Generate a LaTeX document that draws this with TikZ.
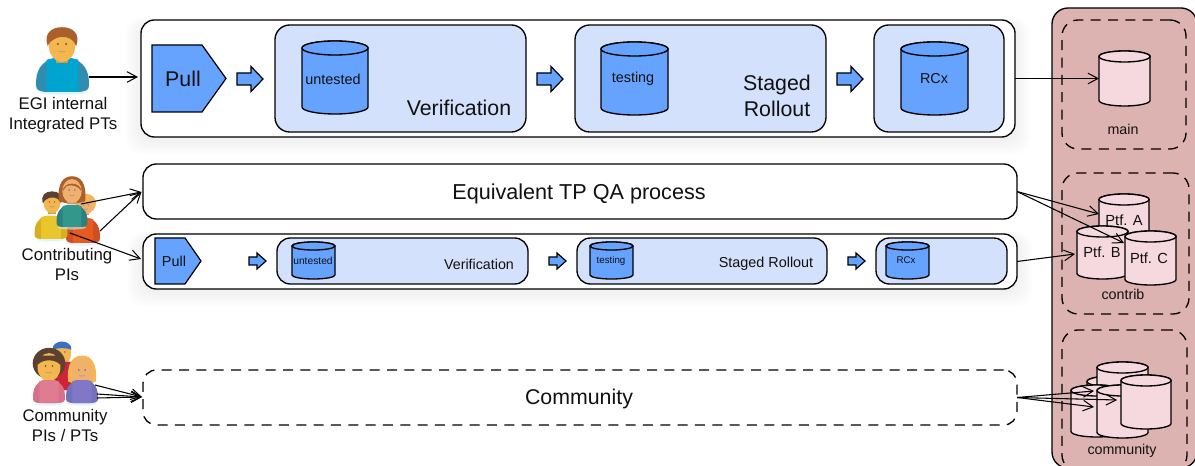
\documentclass[tikz,border=0pt]{standalone}
\usepackage{fontspec}
\setmainfont{Liberation Sans}
\usetikzlibrary{arrows.meta}
\definecolor{bluefill}{HTML}{66A3FF}
\definecolor{boxfill}{HTML}{D4E1FC}
\definecolor{pinkfill}{HTML}{F6D9DE}
\definecolor{panelfill}{HTML}{DDB3B1}
\definecolor{txt}{HTML}{111111}
\definecolor{skinA}{HTML}{F4B64F}
\definecolor{skinB}{HTML}{EFB070}
\definecolor{hairA}{HTML}{A8602C}
\definecolor{hairB}{HTML}{5C4030}
\definecolor{hairC}{HTML}{F2B654}
\definecolor{capblue}{HTML}{3A6FC4}
\definecolor{cyanA}{HTML}{00A4D0}
\definecolor{cyanB}{HTML}{2F8DB0}
\definecolor{yelA}{HTML}{E9C62C}
\definecolor{yelB}{HTML}{D8AE24}
\definecolor{tealA}{HTML}{34978C}
\definecolor{tealB}{HTML}{2B8080}
\definecolor{oraA}{HTML}{E65C1E}
\definecolor{oraB}{HTML}{D04E20}
\definecolor{redA}{HTML}{CE2438}
\definecolor{redB}{HTML}{A82230}
\definecolor{pnkA}{HTML}{DF7C92}
\definecolor{pnkB}{HTML}{D8708A}
\definecolor{vioA}{HTML}{8078C6}
\definecolor{vioB}{HTML}{7470BC}
\newcommand{\fs}[1]{\fontsize{#1}{#1}\selectfont}
\tikzset{
  lbl/.style={text=txt,inner sep=0pt,align=center},
  conn/.style={draw=black,line width=0.8pt,-{Straight Barb[length=7.5pt,width=8pt,line width=0.75pt]}},
  rbox/.style={draw=black,line width=1pt,rounded corners=#1,inner sep=0pt,outer sep=0pt},
  rbox/.default=10pt,
  dashbox/.style={rbox=#1,dash pattern=on 7.5pt off 5.5pt},
  dashbox/.default=10pt,
  blueshape/.style={draw=black,fill=bluefill,line width=0.9pt,line join=miter},
  anchorbox/.style={inner sep=0pt,outer sep=0pt},
}
% name, x1,y1,x2,y2, style, text
\newcommand{\bx}[7]{\node[#6,minimum width={(#4-#2)*0.75pt},minimum height={(#5-#3)*0.75pt}] (#1) at ({(#2+#4)/2},{(#3+#5)/2}) {#7};}
% name,x1,y1,x2,y2,shoulder
\newcommand{\pullsh}[6]{%
  \path[blueshape] (#2,#3) -- (#6,#3) -- (#4,{(#3+#5)/2}) -- (#6,#5) -- (#2,#5) -- cycle;
  \bx{#1}{#2}{#3}{#4}{#5}{anchorbox}{}
}
% name,x1,ym,x2,headstart,halfshaft,halfhead
\newcommand{\blockar}[7]{%
  \path[blueshape] (#2,#3-#6) -- (#5,#3-#6) -- (#5,#3-#7) -- (#4,#3) -- (#5,#3+#7) -- (#5,#3+#6) -- (#2,#3+#6) -- cycle;
  \bx{#1}{#2}{#3-#7}{#4}{#3+#7}{anchorbox}{}
}
% name, x1,y1,x2,y2, ry(px), fill
\newcommand{\cyl}[7]{%
  \pgfmathsetmacro{\crx}{(#4-#2)/2*0.75}\pgfmathsetmacro{\cry}{#6*0.75}%
  \pgfmathsetmacro{\cxm}{(#2+#4)/2}\pgfmathsetmacro{\cyt}{#3+#6}\pgfmathsetmacro{\cyb}{#5-#6}%
  \path[draw=black,line width=1pt,fill=#7] (#2,\cyt) -- (#2,\cyb) arc[start angle=180,end angle=360,x radius=\crx pt,y radius=\cry pt] -- (#4,\cyt) arc[start angle=0,end angle=180,x radius=\crx pt,y radius=\cry pt] -- cycle;
  \path[draw=black,line width=1pt,fill=#7] (\cxm,\cyt) ellipse[x radius=\crx pt,y radius=\cry pt];
  \node[anchorbox,minimum width={(#4-#2)*0.75pt},minimum height={(#5-#3)*0.75pt}] (#1) at (\cxm,{(#3+#5)/2}) {};
}
% soft shadow: x1,y1,x2,y2
\newcommand{\shadowbox}[4]{%
  \foreach \i in {1,...,7}{
    \path[fill=black,opacity=0.009,rounded corners=12pt] ({#1-\i*2.2},{#2-\i*0.8+3}) rectangle ({#3+\i*2.2},{#4+\i*2.2+2});
  }
}
% body: cx, base, half width, height, fill, dark side
\newcommand{\pbody}[6]{%
  \begin{scope}[shift={(#1,#2)},x={#3*0.75pt},y={#4*0.75pt}]
    \path[fill=cyan!20!white,opacity=.6] (0,-0.02) ellipse[x radius={#3*0.68pt},y radius={1.6pt}];
    \path[fill=#6] (-1,0.18) .. controls (-1.02,0.62) and (-0.82,0.9) .. (-0.3,1) -- (0.3,1) .. controls (0.82,0.9) and (1.02,0.62) .. (1,0.18) .. controls (1,0.03) and (0.8,0) .. (0.5,0) -- (-0.5,0) .. controls (-0.8,0) and (-1,0.03) .. (-1,0.18) -- cycle;
    \path[fill=#5] (-0.6,0) -- (-0.6,0.95) -- (-0.3,1) -- (0.3,1) -- (0.6,0.95) -- (0.6,0) -- cycle;
  \end{scope}
}
% head: cx, cy, r, skin, hair colour, style 0 short 1 long 2 cap 3 curly
\newcommand{\phead}[6]{%
  \begin{scope}[shift={(#1,#2)},x={#3*0.75pt},y={#3*0.75pt}]
    \ifnum#6=1 \path[fill=#5] (-1.2,-1.0) .. controls (-1.35,0.6) and (-0.8,1.25) .. (0,1.25) .. controls (0.8,1.25) and (1.35,0.6) .. (1.2,-1.0) .. controls (0.6,-1.3) and (-0.6,-1.3) .. (-1.2,-1.0) -- cycle; \fi
    \ifnum#6=3 \path[fill=#5] (0,0.2) ellipse[x radius={#3*0.94pt},y radius={#3*0.9pt}]; \fi
    \path[fill=#4!85!black] (-0.42,-0.6) rectangle (0.42,-1.3);
    \path[fill=#4] (0,-0.1) ellipse[x radius={#3*0.66pt},y radius={#3*0.82pt}];
    \ifnum#6=0 \path[fill=#5] (-0.95,-0.15) .. controls (-1.25,0.7) and (-0.7,1.12) .. (0,1.12) .. controls (0.7,1.12) and (1.25,0.7) .. (0.95,-0.15) .. controls (0.8,0.2) and (0.65,0.3) .. (0.55,0.35) .. controls (0.2,0.55) and (-0.3,0.5) .. (-0.55,0.3) .. controls (-0.7,0.25) and (-0.85,0.1) .. (-0.95,-0.15) -- cycle; \fi
    \ifnum#6=1 \path[fill=#5] (-0.85,-0.1) .. controls (-0.8,0.8) and (0.8,0.8) .. (0.85,-0.1) .. controls (0.6,0.35) and (0,0.55) .. (-0.5,0.35) -- cycle; \fi
    \ifnum#6=2 \path[fill=#5] (-0.9,0.22) .. controls (-0.95,1.25) and (0.95,1.25) .. (0.9,0.22) .. controls (0.4,0.42) and (-0.4,0.42) .. (-0.9,0.22) -- cycle; \fi
    \ifnum#6=3 \path[fill=#5] (-0.85,0.1) .. controls (-0.5,0.55) and (0.5,0.55) .. (0.85,0.1) -- (0.85,0.8) -- (-0.85,0.8) -- cycle; \fi
    \path[fill=black!70] (-0.27,0) circle[radius={#3*0.05pt}] (0.27,0) circle[radius={#3*0.05pt}];
    \path[draw=black!45,line width=0.3pt] (-0.22,-0.48) .. controls (-0.1,-0.56) and (0.1,-0.56) .. (0.22,-0.48);
  \end{scope}
}
\begin{document}
\begin{tikzpicture}[x=0.75pt,y=-0.75pt]
\useasboundingbox (0,0) rectangle (1195,466);
\fill[white] (0,0) rectangle (1195,466);
% right panel
\bx{panel}{1052}{8}{1197}{468}{rbox=12pt,fill=panelfill}{}
\bx{mainrepo}{1062}{20}{1186}{149}{dashbox=12pt}{}
\bx{contribrepo}{1062}{173}{1189}{314}{dashbox=12pt}{}
\bx{commrepo}{1062}{330}{1187}{471}{dashbox=12pt}{}
% top row
\shadowbox{141}{20}{1015}{137}
\bx{toprow}{141}{20}{1015}{137}{rbox=10pt,fill=white}{}
\pullsh{tpull}{152}{45}{226}{112}{202}
\node[lbl,font=\fs{16}] (tpulltxt) at (183,79) {Pull};
\blockar{ta1}{237}{79}{263}{251}{6}{12.5}
\bx{tver}{275}{25}{526}{132}{rbox=11pt,fill=boxfill}{}
\cyl{tunt}{302}{41}{368}{114}{7}{bluefill}
\node[lbl,font=\fs{10.8}] (tunttxt) at (333,79) {untested};
\node[lbl,font=\fs{16}] (tvertxt) at (459,108) {Verification};
\blockar{ta2}{537}{79}{563}{551}{6}{12.5}
\bx{tsta}{575}{25}{826}{132}{rbox=11pt,fill=boxfill}{}
\cyl{ttes}{601}{42}{668}{115}{7}{bluefill}
\node[lbl,font=\fs{10.8}] (ttestxt) at (633,79) {testing};
\node[lbl,font=\fs{16}] (tstatxt) at (777,95.5) {Staged\\[3.5pt]Rollout};
\blockar{ta3}{837}{79}{863}{851}{6}{12.5}
\bx{trc}{874}{25}{1004}{132}{rbox=11pt,fill=boxfill}{}
\cyl{trcc}{901}{42}{968}{115}{7}{bluefill}
\node[lbl,font=\fs{10.8}] (trctxt) at (934,79) {RCx};
% equivalent
\bx{equiv}{143}{164}{1017}{219}{rbox=10pt,fill=white}{}
\node[lbl,font=\fs{16.2}] (equivtxt) at (579,194) {Equivalent TP QA process};
% second row
\shadowbox{143}{234}{1017}{289}
\bx{midrow}{143}{234}{1017}{289}{rbox=10pt,fill=white}{}
\pullsh{mpull}{155}{238}{201}{284}{185}
\node[lbl,font=\fs{10.8}] (mpulltxt) at (174,261) {Pull};
\blockar{ma1}{249}{261}{266}{257}{4}{8}
\bx{mver}{277}{238}{528}{284}{rbox=10pt,fill=boxfill}{}
\cyl{munt}{292}{242}{335}{279}{4}{bluefill}
\node[lbl,font=\fs{7.7}] (munttxt) at (313,260.5) {untested};
\node[lbl,font=\fs{10.7}] (mvertxt) at (479,264) {Verification};
\blockar{ma2}{549}{261}{566}{557}{4}{8}
\bx{msta}{577}{238}{827}{284}{rbox=10pt,fill=boxfill}{}
\cyl{mtes}{590}{242}{633}{279}{4}{bluefill}
\node[lbl,font=\fs{7.3}] (mtestxt) at (611,260.5) {testing};
\node[lbl,font=\fs{10.8}] (mstatxt) at (766,264) {Staged Rollout};
\blockar{ma3}{848}{261}{865}{856}{4}{8}
\bx{mrc}{876}{238}{1007}{284}{rbox=10pt,fill=boxfill}{}
\cyl{mrcc}{886}{242}{929}{279}{4}{bluefill}
\node[lbl,font=\fs{7.3}] (mrctxt) at (906,260.5) {RCx};
% community
\bx{commbox}{143}{370}{1017}{425}{dashbox=10pt,fill=white}{}
\node[lbl,font=\fs{16}] (commtxt) at (579,399) {Community};
% repos
\cyl{mainc}{1099}{51}{1150}{106}{5.5}{pinkfill}
\node[lbl,font=\fs{10.7}] (maintxt) at (1123,129) {main};
\cyl{ptfa}{1099}{194}{1149}{248}{5.5}{pinkfill}
\node[lbl,font=\fs{11}] (ptfatxt) at (1124,220) {Ptf. A};
\cyl{ptfb}{1077}{226}{1128}{279}{5.5}{pinkfill}
\node[lbl,font=\fs{11}] (ptfbtxt) at (1102,252) {Ptf. B};
\cyl{ptfc}{1125}{231}{1176}{285}{5.5}{pinkfill}
\node[lbl,font=\fs{11}] (ptfctxt) at (1149,258) {Ptf. C};
\node[lbl,font=\fs{10.7}] (contribtxt) at (1123,294) {contrib};
\cyl{cc1}{1087}{376}{1140}{428}{5.5}{pinkfill}
\cyl{cc2}{1097}{362}{1148}{416}{5.5}{pinkfill}
\cyl{cc3}{1071}{385}{1122}{437}{5.5}{pinkfill}
\cyl{cc4}{1097}{385}{1148}{438}{5.5}{pinkfill}
\cyl{cc5}{1121}{375}{1171}{429}{5.5}{pinkfill}
\node[lbl,font=\fs{10.7}] (commrepotxt) at (1122,451) {community};
% persons
\pbody{62.5}{92}{26.5}{34}{cyanA}{cyanB}
\phead{62}{44}{15}{skinA}{hairA}{0}
\node[lbl,font=\fs{12.6}] (p1txt) at (63,115) {EGI internal\\[2.4pt]Integrated PTs};
\phead{86}{205}{8}{skinB}{hairC}{3}
\pbody{83}{243}{17}{25}{oraA}{oraB}
\pbody{51}{239}{16.5}{23}{yelA}{yelB}
\phead{52}{202}{9.5}{skinA}{hairB}{0}
\phead{72}{190}{11}{skinB}{hairA}{1}
\pbody{72}{227}{15.5}{22}{tealA}{tealB}
\node[lbl,font=\fs{12.6}] (p2txt) at (67,264.5) {Contributing\\[2.4pt]PIs};
\phead{62}{352}{10.5}{skinA}{capblue}{2}
\pbody{66}{390}{14.5}{28}{redA}{redB}
\phead{49}{366}{13}{skinA}{hairB}{3}
\pbody{49}{403}{16}{23}{pnkA}{pnkB}
\phead{82}{370}{11.5}{skinB}{hairC}{1}
\pbody{82}{403}{16}{23}{vioA}{vioB}
\node[lbl,font=\fs{12.6}] (p3txt) at (65,425.5) {Community\\[2.4pt]PIs / PTs};
% connector ends
\coordinate (s1) at (89,77);
\coordinate (s2a) at (81,204);
\coordinate (s2b) at (100,231);
\coordinate (s2c) at (70,233);
\coordinate (s3a) at (95,385);
\coordinate (s3b) at (97,394);
\coordinate (s3c) at (97,398);
\coordinate (e1) at (138,77);
\coordinate (e2) at (141.5,192);
\coordinate (e3) at (141,259);
\coordinate (e4) at (142,397);
\coordinate (ptfae) at (1099,214);
\coordinate (ptfce) at (1124,243);
\coordinate (ptfbe) at (1075,254);
\coordinate (ca) at (1094,391);
\coordinate (cb) at (1117,400);
\coordinate (cc) at (1094,407);
\draw[conn] (s1) -- (e1);
\draw[conn] (s2a) -- (e2);
\draw[conn] (s2b) -- (e2);
\draw[conn] (s2c) -- (e3);
\draw[conn] (s3a) -- (e4);
\draw[conn] (s3b) -- (e4);
\draw[conn] (s3c) -- (e4);
\draw[conn] (toprow.east) -- (mainc.west);
\draw[conn] (equiv.east) -- (ptfae);
\draw[conn] (equiv.east) -- (ptfce);
\draw[conn] (midrow.east) -- (ptfbe);
\draw[conn] (commbox.east) -- (ca);
\draw[conn] (commbox.east) -- (cb);
\draw[conn] (commbox.east) -- (cc);
\end{tikzpicture}
\end{document}
